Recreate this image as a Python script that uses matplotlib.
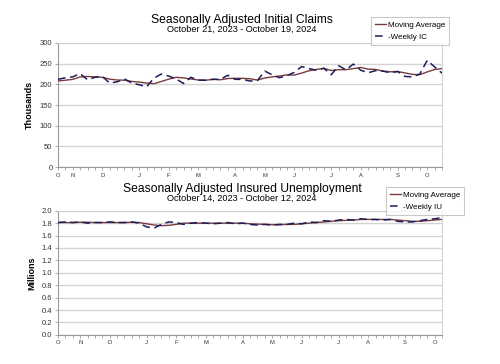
import matplotlib
matplotlib.use("Agg")
import matplotlib.pyplot as plt
import numpy as np

plt.rcParams['font.family'] = ['Liberation Sans', 'DejaVu Sans']

# Initial claims, weeks Oct 21, 2023 - Oct 19, 2024 (thousands)
ic_weekly = [212, 216, 218, 226, 211, 217, 219, 203, 206, 213, 203,
             199, 194, 215, 225, 220, 213, 202, 217, 210, 210, 212,
             212, 222, 212, 212, 208, 209, 232, 223, 216, 221, 229,
             243, 238, 234, 239, 223, 245, 235, 249, 234, 228, 233,
             232, 228, 231, 219, 218, 225, 258, 242, 227]
ic_ma = [208, 210, 212, 218, 219, 218, 217, 212.5, 210.5, 210, 207,
         205.5, 203, 201.5, 207, 212.5, 217, 215.5, 213, 210.5, 209.8, 212.3,
         211, 214, 214.5, 214.5, 213.5, 210.3, 215.3, 218, 220, 223, 222.3,
         227.3, 232.8, 236, 238.5, 233.5, 235.3, 235.5, 238, 240.8, 236.5, 236,
         231.8, 230.3, 231, 227.5, 224, 223.3, 230, 235.8, 238]
ic_tick_pos = [0, 2, 6, 11, 15, 19, 24, 28, 32, 37, 41, 46, 50]

# Insured unemployment, weeks Oct 14, 2023 - Oct 12, 2024 (millions)
iu_weekly = [1.81, 1.82, 1.81, 1.82, 1.80, 1.81, 1.81, 1.82, 1.81, 1.81, 1.82,
             1.80, 1.74, 1.72, 1.78, 1.82, 1.81, 1.78, 1.80, 1.81, 1.80, 1.79,
             1.80, 1.81, 1.79, 1.80, 1.78, 1.77, 1.78, 1.77, 1.78, 1.78, 1.80,
             1.79, 1.82, 1.81, 1.84, 1.83, 1.85, 1.86, 1.85, 1.87, 1.86, 1.86,
             1.85, 1.86, 1.83, 1.82, 1.82, 1.84, 1.86, 1.87, 1.89]
iu_ma = [1.81, 1.81, 1.81, 1.815, 1.815, 1.81, 1.81, 1.81, 1.81, 1.81, 1.815,
         1.81, 1.79, 1.77, 1.76, 1.765, 1.78, 1.80, 1.80, 1.80, 1.80, 1.80,
         1.80, 1.80, 1.80, 1.80, 1.79, 1.785, 1.78, 1.775, 1.775, 1.78, 1.78,
         1.79, 1.80, 1.81, 1.82, 1.83, 1.84, 1.845, 1.85, 1.86, 1.86, 1.86,
         1.86, 1.86, 1.85, 1.84, 1.83, 1.83, 1.84, 1.85, 1.86]
iu_tick_pos = [0, 3, 7, 12, 16, 20, 25, 29, 33, 38, 42, 47, 51]

month_labels = ["O", "N", "D", "J", "F", "M", "A", "M", "J", "J", "A", "S", "O"]

ma_color = '#7a3b3b'
wk_color = '#1c1c5c'

fig = plt.figure(figsize=(5, 3.64), dpi=100, facecolor='white')


def draw_panel(ax, weekly, ma, wk_label, tick_pos, ylim, yticks, yfmt, ylabel):
    x = np.arange(len(weekly))
    ax.plot(x, ma, color=ma_color, lw=1.0, label="Moving Average", zorder=3)
    ax.plot(x, weekly, color=wk_color, lw=1.1, dashes=(5, 3),
            label=wk_label, zorder=4)
    ax.set_xlim(0, len(weekly) - 1)
    ax.set_ylim(*ylim)
    ax.set_yticks(yticks)
    ax.set_yticklabels([yfmt.format(v) for v in yticks], fontsize=5.5,
                       color='#333333')
    ax.yaxis.grid(True, color='#d4d4d4', lw=1.0)
    ax.set_axisbelow(True)
    ax.set_xticks(tick_pos)
    ax.set_xticklabels(month_labels, fontsize=4.2, color='#333333')
    ax.set_xticks(x, minor=True)
    ax.tick_params(axis='x', which='both', length=2, width=0.5,
                   color='#888888', pad=2)
    ax.tick_params(axis='y', length=2, width=0.5, color='#888888', pad=2)
    for side in ['top', 'right']:
        ax.spines[side].set_color('#d4d4d4')
    for side in ['left', 'bottom']:
        ax.spines[side].set_color('#999999')
    for s in ax.spines.values():
        s.set_linewidth(0.8)
    ax.set_ylabel(ylabel, fontsize=6.5, fontweight='bold', labelpad=4)


ax1 = fig.add_axes([0.116, 0.541, 0.768, 0.341])
draw_panel(ax1, ic_weekly, ic_ma, "-Weekly IC", ic_tick_pos, (0, 300),
           list(range(0, 301, 50)), "{:d}", "Thousands")
ax2 = fig.add_axes([0.116, 0.080, 0.768, 0.341])
draw_panel(ax2, iu_weekly, iu_ma, "-Weekly IU", iu_tick_pos, (0, 2.0),
           [round(v * 0.2, 1) for v in range(11)], "{:.1f}", "Millions")

fig.text(0.484, 1 - 20 / 364, "Seasonally Adjusted Initial Claims",
         ha='center', va='center', fontsize=8.7)
fig.text(0.484, 1 - 29.5 / 364, "October 21, 2023 - October 19, 2024",
         ha='center', va='center', fontsize=6.6)
fig.text(0.484, 1 - 189 / 364, "Seasonally Adjusted Insured Unemployment",
         ha='center', va='center', fontsize=8.7)
fig.text(0.484, 1 - 198.5 / 364, "October 14, 2023 - October 12, 2024",
         ha='center', va='center', fontsize=6.6)

for ax, anchor in [(ax1, (0.734, 1 - 13 / 364)), (ax2, (0.764, 1 - 183 / 364))]:
    leg = ax.legend(loc='upper left', bbox_to_anchor=anchor,
                    bbox_transform=fig.transFigure, fontsize=5.8,
                    frameon=True, fancybox=False, handlelength=1.4,
                    handletextpad=0.2, borderpad=0.5, labelspacing=0.6)
    leg.get_frame().set_edgecolor('#bbbbbb')
    leg.get_frame().set_linewidth(0.8)

fig.savefig("out.png", dpi=100, facecolor='white')
